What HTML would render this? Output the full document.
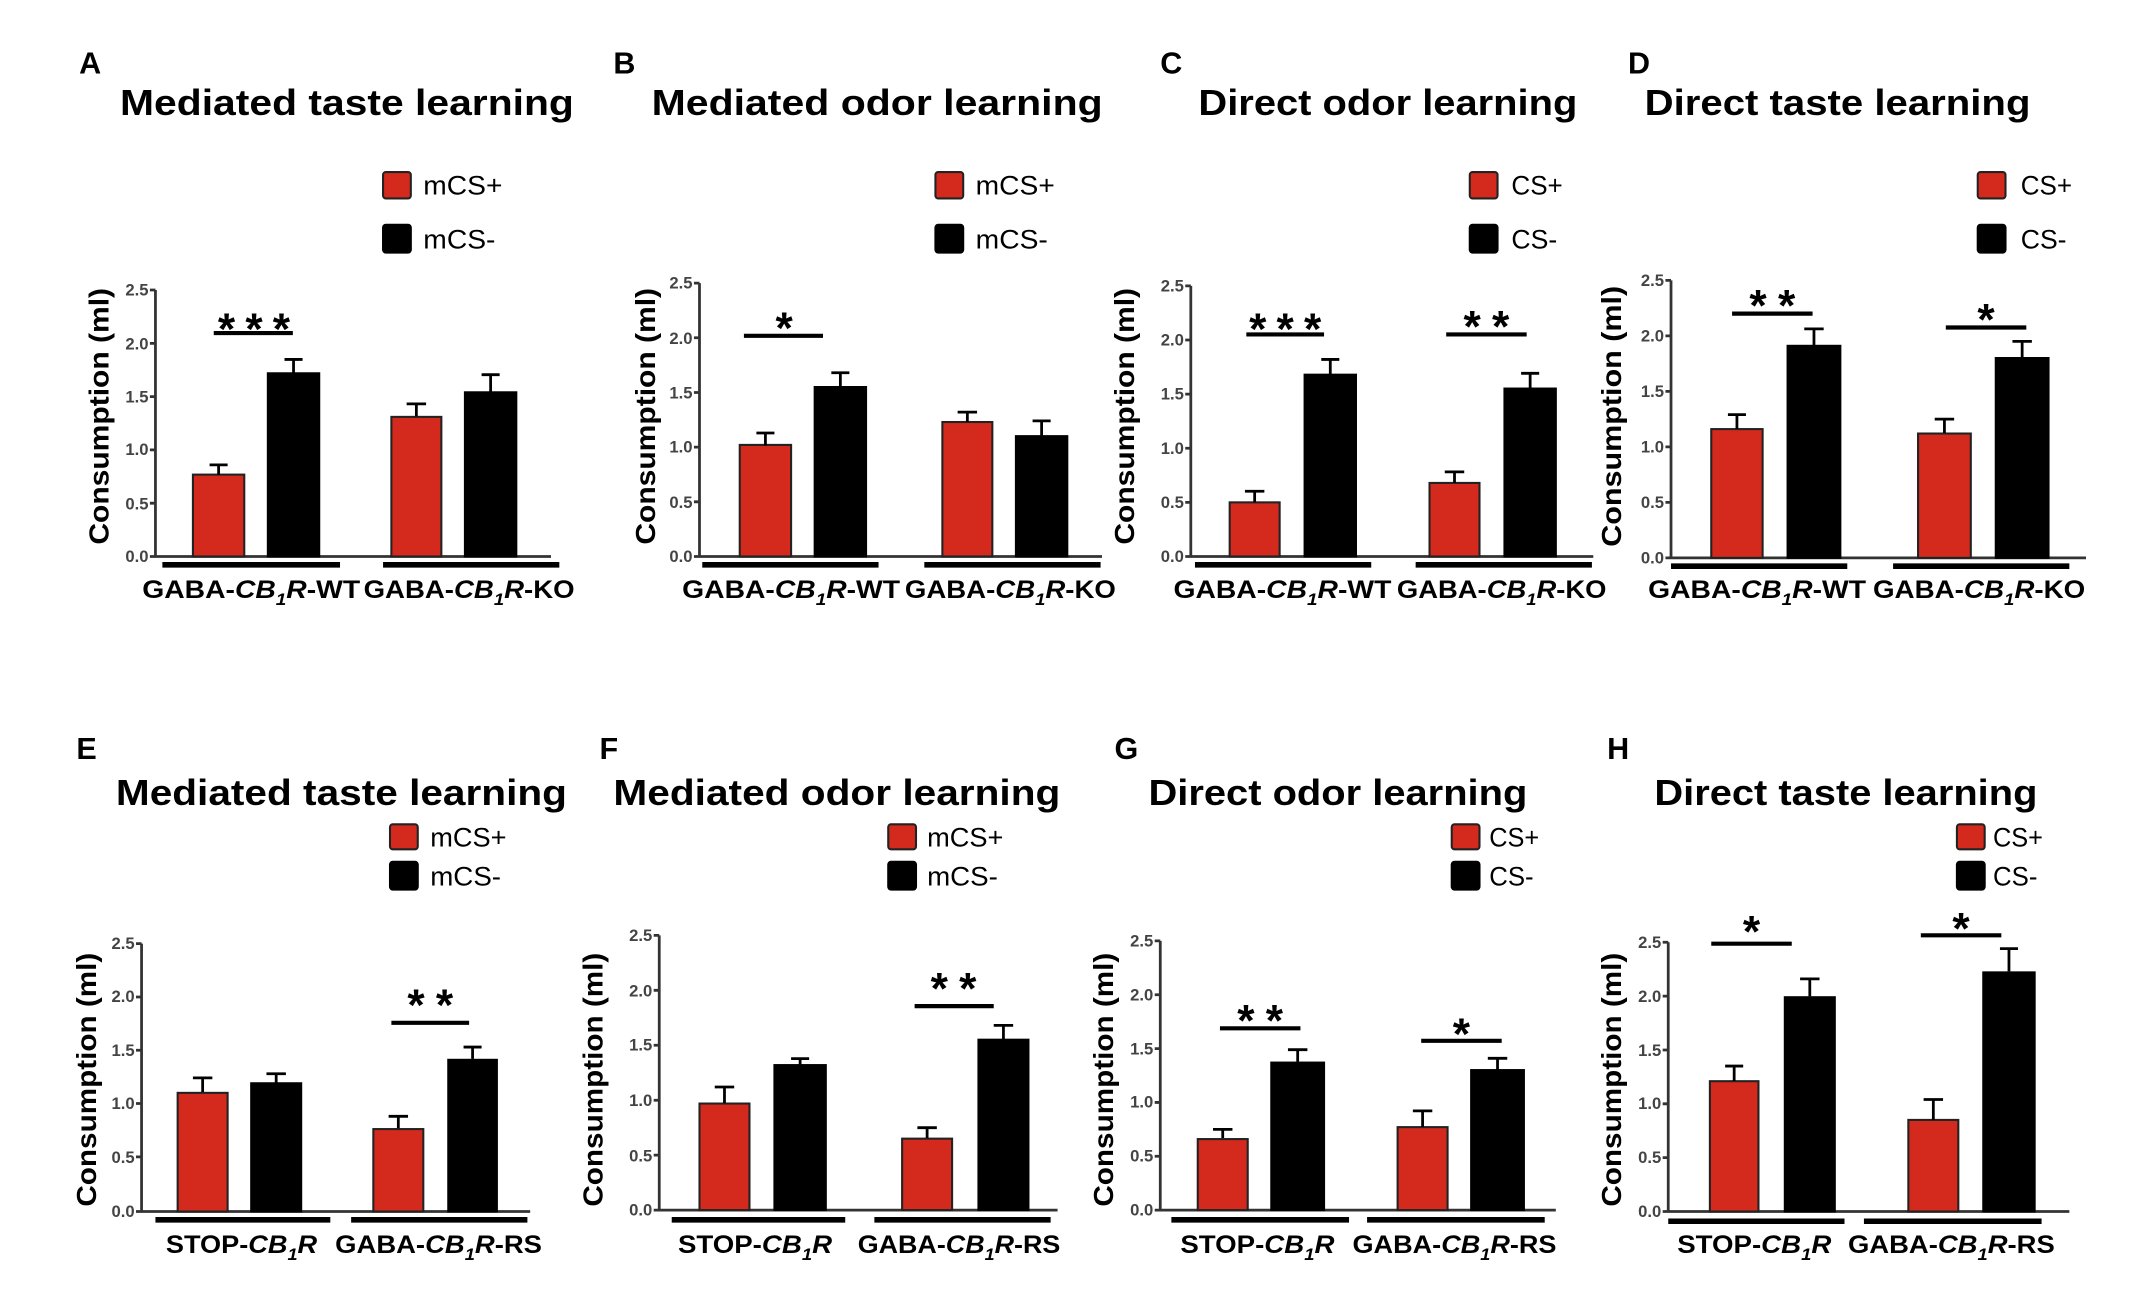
<!DOCTYPE html>
<html><head><meta charset="utf-8"><style>
html,body{margin:0;padding:0;background:#fff}
svg{display:block}
text{font-family:"Liberation Sans",sans-serif}
.t{font-weight:bold;font-size:26px}
.L{font-weight:bold;font-size:22px}
.lg{font-size:19px}
.tk{font-size:12px;font-weight:bold;fill:#444}
.yl{font-weight:bold;font-size:20px}
.gl{font-weight:bold;font-size:18px}
.st{font-weight:bold;font-size:32px}
.r{fill:#d42a1e;stroke:#222;stroke-width:1.5}
.b{fill:#000;stroke:#000;stroke-width:1.5}
.ax{stroke:#333;stroke-width:2;fill:none}
.e{stroke:#000;stroke-width:2;fill:none}
.g{stroke:#000;stroke-width:4}
.s{stroke:#000;stroke-width:3}
</style></head><body>
<svg width="2154" height="1292" viewBox="0 0 1552 931" preserveAspectRatio="none" xmlns="http://www.w3.org/2000/svg">
<!-- ===== A ===== -->
<text class="L" x="57" y="53">A</text>
<text class="t" x="250" y="83" text-anchor="middle" textLength="327" lengthAdjust="spacingAndGlyphs">Mediated taste learning</text>
<rect x="276" y="124" width="20" height="19" rx="2" class="r" stroke-width="2.5"/><text class="lg" x="305" y="140" textLength="57" lengthAdjust="spacingAndGlyphs">mCS+</text>
<rect x="276" y="162" width="20" height="20" rx="2" class="b"/><text class="lg" x="305" y="179" textLength="52" lengthAdjust="spacingAndGlyphs">mCS-</text>
<text class="yl" transform="translate(78,300) rotate(-90)" text-anchor="middle" textLength="185" lengthAdjust="spacingAndGlyphs">Consumption (ml)</text>
<g class="ax"><path d="M112,209 V401 H397 M108,401 H112 M108,362.6 H112 M108,324.2 H112 M108,285.8 H112 M108,247.4 H112 M108,209 H112"/></g>
<g class="tk" text-anchor="end"><text x="107" y="405">0.0</text><text x="107" y="367">0.5</text><text x="107" y="328">1.0</text><text x="107" y="290">1.5</text><text x="107" y="252">2.0</text><text x="107" y="213">2.5</text></g>
<rect class="r" x="139" y="342" width="37" height="59"/><path class="e" d="M157.5,342 V335 M151,335 H164"/>
<rect class="b" x="193" y="269" width="37" height="132"/><path class="e" d="M211.5,269 V259 M205,259 H218"/>
<rect class="r" x="282" y="300.4" width="36" height="100.6"/><path class="e" d="M300,300 V291 M293,291 H307"/>
<rect class="b" x="335" y="282.7" width="37" height="118.3"/><path class="e" d="M353.5,283 V270 M347,270 H360"/>
<line class="s" x1="154" y1="240" x2="211" y2="240"/><text class="st" x="183" y="248" text-anchor="middle" textLength="52" lengthAdjust="spacing">***</text>
<line class="g" x1="117" y1="407" x2="245" y2="407"/><line class="g" x1="276" y1="407" x2="403" y2="407"/>
<text class="gl" x="181" y="431" text-anchor="middle" textLength="157" lengthAdjust="spacingAndGlyphs">GABA-<tspan font-style="italic">CB</tspan><tspan font-style="italic" font-size="12" dy="5">1</tspan><tspan font-style="italic" dy="-5">R</tspan>-WT</text>
<text class="gl" x="338" y="431" text-anchor="middle" textLength="152" lengthAdjust="spacingAndGlyphs">GABA-<tspan font-style="italic">CB</tspan><tspan font-style="italic" font-size="12" dy="5">1</tspan><tspan font-style="italic" dy="-5">R</tspan>-KO</text>

<!-- ===== B ===== -->
<text class="L" x="442" y="53">B</text>
<text class="t" x="632" y="83" text-anchor="middle" textLength="325" lengthAdjust="spacingAndGlyphs">Mediated odor learning</text>
<rect x="674" y="124" width="20" height="19" rx="2" class="r" stroke-width="2.5"/><text class="lg" x="703" y="140" textLength="57" lengthAdjust="spacingAndGlyphs">mCS+</text>
<rect x="674" y="162" width="20" height="20" rx="2" class="b"/><text class="lg" x="703" y="179" textLength="52" lengthAdjust="spacingAndGlyphs">mCS-</text>
<text class="yl" transform="translate(472,300) rotate(-90)" text-anchor="middle" textLength="185" lengthAdjust="spacingAndGlyphs">Consumption (ml)</text>
<g class="ax"><path d="M504,204 V401 H794 M500,401 H504 M500,361.6 H504 M500,322.2 H504 M500,282.8 H504 M500,243.4 H504 M500,204 H504"/></g>
<g class="tk" text-anchor="end"><text x="499" y="405">0.0</text><text x="499" y="366">0.5</text><text x="499" y="326">1.0</text><text x="499" y="287">1.5</text><text x="499" y="248">2.0</text><text x="499" y="208">2.5</text></g>
<rect class="r" x="533" y="320.6" width="37" height="80.4"/><path class="e" d="M551.5,321 V312 M545,312 H558"/>
<rect class="b" x="587" y="278.9" width="37" height="122.1"/><path class="e" d="M605.5,279 V268.6 M599,268.6 H612"/>
<rect class="r" x="679" y="304.1" width="36" height="96.9"/><path class="e" d="M697,304 V297 M690,297 H704"/>
<rect class="b" x="732" y="314.3" width="37" height="86.7"/><path class="e" d="M750.5,314 V303.3 M744,303.3 H757"/>
<line class="s" x1="536" y1="242" x2="593" y2="242"/><text class="st" x="565" y="247" text-anchor="middle">*</text>
<line class="g" x1="506" y1="407" x2="633" y2="407"/><line class="g" x1="666" y1="407" x2="793" y2="407"/>
<text class="gl" x="570" y="431" text-anchor="middle" textLength="157" lengthAdjust="spacingAndGlyphs">GABA-<tspan font-style="italic">CB</tspan><tspan font-style="italic" font-size="12" dy="5">1</tspan><tspan font-style="italic" dy="-5">R</tspan>-WT</text>
<text class="gl" x="728" y="431" text-anchor="middle" textLength="152" lengthAdjust="spacingAndGlyphs">GABA-<tspan font-style="italic">CB</tspan><tspan font-style="italic" font-size="12" dy="5">1</tspan><tspan font-style="italic" dy="-5">R</tspan>-KO</text>

<!-- ===== C ===== -->
<text class="L" x="836" y="53">C</text>
<text class="t" x="1000" y="83" text-anchor="middle" textLength="273" lengthAdjust="spacingAndGlyphs">Direct odor learning</text>
<rect x="1059" y="124" width="20" height="19" rx="2" class="r" stroke-width="2.5"/><text class="lg" x="1089" y="140" textLength="37" lengthAdjust="spacingAndGlyphs">CS+</text>
<rect x="1059" y="162" width="20" height="20" rx="2" class="b"/><text class="lg" x="1089" y="179" textLength="33" lengthAdjust="spacingAndGlyphs">CS-</text>
<text class="yl" transform="translate(817,300) rotate(-90)" text-anchor="middle" textLength="185" lengthAdjust="spacingAndGlyphs">Consumption (ml)</text>
<g class="ax"><path d="M858,206 V401 H1148 M854,401 H858 M854,362 H858 M854,323 H858 M854,284 H858 M854,245 H858 M854,206 H858"/></g>
<g class="tk" text-anchor="end"><text x="853" y="405">0.0</text><text x="853" y="366">0.5</text><text x="853" y="327">1.0</text><text x="853" y="288">1.5</text><text x="853" y="249">2.0</text><text x="853" y="210">2.5</text></g>
<rect class="r" x="886" y="362" width="36" height="39"/><path class="e" d="M904,362 V354 M897,354 H911"/>
<rect class="b" x="940" y="270" width="37" height="131"/><path class="e" d="M958.5,270 V259 M952,259 H965"/>
<rect class="r" x="1030" y="348" width="36" height="53"/><path class="e" d="M1048,348 V340 M1041,340 H1055"/>
<rect class="b" x="1084" y="280" width="37" height="121"/><path class="e" d="M1102.5,280 V269 M1096,269 H1109"/>
<line class="s" x1="898" y1="241" x2="954" y2="241"/><text class="st" x="926" y="248" text-anchor="middle" textLength="52" lengthAdjust="spacing">***</text>
<line class="s" x1="1042" y1="241" x2="1100" y2="241"/><text class="st" x="1071" y="246" text-anchor="middle" textLength="33" lengthAdjust="spacing">**</text>
<line class="g" x1="861" y1="407" x2="988" y2="407"/><line class="g" x1="1020" y1="407" x2="1147" y2="407"/>
<text class="gl" x="924" y="431" text-anchor="middle" textLength="157" lengthAdjust="spacingAndGlyphs">GABA-<tspan font-style="italic">CB</tspan><tspan font-style="italic" font-size="12" dy="5">1</tspan><tspan font-style="italic" dy="-5">R</tspan>-WT</text>
<text class="gl" x="1082" y="431" text-anchor="middle" textLength="151" lengthAdjust="spacingAndGlyphs">GABA-<tspan font-style="italic">CB</tspan><tspan font-style="italic" font-size="12" dy="5">1</tspan><tspan font-style="italic" dy="-5">R</tspan>-KO</text>

<!-- ===== D ===== -->
<text class="L" x="1173" y="53">D</text>
<text class="t" x="1324" y="83" text-anchor="middle" textLength="278" lengthAdjust="spacingAndGlyphs">Direct taste learning</text>
<rect x="1425" y="124" width="20" height="19" rx="2" class="r" stroke-width="2.5"/><text class="lg" x="1456" y="140" textLength="37" lengthAdjust="spacingAndGlyphs">CS+</text>
<rect x="1425" y="162" width="20" height="20" rx="2" class="b"/><text class="lg" x="1456" y="179" textLength="33" lengthAdjust="spacingAndGlyphs">CS-</text>
<text class="yl" transform="translate(1168,300) rotate(-90)" text-anchor="middle" textLength="188" lengthAdjust="spacingAndGlyphs">Consumption (ml)</text>
<g class="ax"><path d="M1204,202 V402 H1503 M1200,402 H1204 M1200,362 H1204 M1200,322 H1204 M1200,282 H1204 M1200,242 H1204 M1200,202 H1204"/></g>
<g class="tk" text-anchor="end"><text x="1199" y="406">0.0</text><text x="1199" y="366">0.5</text><text x="1199" y="326">1.0</text><text x="1199" y="286">1.5</text><text x="1199" y="246">2.0</text><text x="1199" y="206">2.5</text></g>
<rect class="r" x="1233" y="309.2" width="37" height="92.8"/><path class="e" d="M1251.5,309 V298.8 M1245,298.8 H1258"/>
<rect class="b" x="1288" y="249.2" width="38" height="152.8"/><path class="e" d="M1307,249 V237 M1300,237 H1314"/>
<rect class="r" x="1382" y="312.4" width="38" height="89.6"/><path class="e" d="M1401,312 V302 M1394,302 H1408"/>
<rect class="b" x="1438" y="258" width="38" height="144"/><path class="e" d="M1457,258 V246 M1450,246 H1464"/>
<line class="s" x1="1248" y1="226" x2="1306" y2="226"/><text class="st" x="1277" y="231" text-anchor="middle" textLength="33" lengthAdjust="spacing">**</text>
<line class="s" x1="1402" y1="236" x2="1460" y2="236"/><text class="st" x="1431" y="241" text-anchor="middle">*</text>
<line class="g" x1="1204" y1="408" x2="1331" y2="408"/><line class="g" x1="1364" y1="408" x2="1491" y2="408"/>
<text class="gl" x="1266" y="431" text-anchor="middle" textLength="157" lengthAdjust="spacingAndGlyphs">GABA-<tspan font-style="italic">CB</tspan><tspan font-style="italic" font-size="12" dy="5">1</tspan><tspan font-style="italic" dy="-5">R</tspan>-WT</text>
<text class="gl" x="1426" y="431" text-anchor="middle" textLength="153" lengthAdjust="spacingAndGlyphs">GABA-<tspan font-style="italic">CB</tspan><tspan font-style="italic" font-size="12" dy="5">1</tspan><tspan font-style="italic" dy="-5">R</tspan>-KO</text>

<!-- ===== E ===== -->
<text class="L" x="55" y="547">E</text>
<text class="t" x="246" y="580" text-anchor="middle" textLength="325" lengthAdjust="spacingAndGlyphs">Mediated taste learning</text>
<rect x="281" y="594" width="20" height="18" rx="2" class="r" stroke-width="2.5"/><text class="lg" x="310" y="610" textLength="55" lengthAdjust="spacingAndGlyphs">mCS+</text>
<rect x="281" y="621" width="20" height="20" rx="2" class="b"/><text class="lg" x="310" y="638" textLength="51" lengthAdjust="spacingAndGlyphs">mCS-</text>
<text class="yl" transform="translate(69,778) rotate(-90)" text-anchor="middle" textLength="183" lengthAdjust="spacingAndGlyphs">Consumption (ml)</text>
<g class="ax"><path d="M102,680 V873 H382 M98,873 H102 M98,833.6 H102 M98,795.2 H102 M98,756.8 H102 M98,718.4 H102 M98,680 H102"/></g>
<g class="tk" text-anchor="end"><text x="97" y="877">0.0</text><text x="97" y="838">0.5</text><text x="97" y="799">1.0</text><text x="97" y="761">1.5</text><text x="97" y="722">2.0</text><text x="97" y="684">2.5</text></g>
<rect class="r" x="128" y="787.5" width="36" height="85.5"/><path class="e" d="M146,787 V776.7 M139,776.7 H153"/>
<rect class="b" x="181" y="780.6" width="36" height="92.4"/><path class="e" d="M199,780 V773.7 M192,773.7 H206"/>
<rect class="r" x="269" y="813.6" width="36" height="59.4"/><path class="e" d="M287,813 V804.4 M280,804.4 H294"/>
<rect class="b" x="323" y="763.7" width="35" height="109.3"/><path class="e" d="M340.5,763 V754.5 M334,754.5 H347"/>
<line class="s" x1="282" y1="737" x2="338" y2="737"/><text class="st" x="310" y="735" text-anchor="middle" textLength="33" lengthAdjust="spacing">**</text>
<line class="g" x1="112" y1="879" x2="238" y2="879"/><line class="g" x1="253" y1="879" x2="380" y2="879"/>
<text class="gl" x="174" y="903" text-anchor="middle" textLength="109" lengthAdjust="spacingAndGlyphs">STOP-<tspan font-style="italic">CB</tspan><tspan font-style="italic" font-size="12" dy="5">1</tspan><tspan font-style="italic" dy="-5">R</tspan></text>
<text class="gl" x="316" y="903" text-anchor="middle" textLength="149" lengthAdjust="spacingAndGlyphs">GABA-<tspan font-style="italic">CB</tspan><tspan font-style="italic" font-size="12" dy="5">1</tspan><tspan font-style="italic" dy="-5">R</tspan>-RS</text>

<!-- ===== F ===== -->
<text class="L" x="432" y="547">F</text>
<text class="t" x="603" y="580" text-anchor="middle" textLength="322" lengthAdjust="spacingAndGlyphs">Mediated odor learning</text>
<rect x="640" y="594" width="20" height="18" rx="2" class="r" stroke-width="2.5"/><text class="lg" x="668" y="610" textLength="55" lengthAdjust="spacingAndGlyphs">mCS+</text>
<rect x="640" y="621" width="20" height="20" rx="2" class="b"/><text class="lg" x="668" y="638" textLength="51" lengthAdjust="spacingAndGlyphs">mCS-</text>
<text class="yl" transform="translate(434,778) rotate(-90)" text-anchor="middle" textLength="183" lengthAdjust="spacingAndGlyphs">Consumption (ml)</text>
<g class="ax"><path d="M475,674 V872 H762 M471,872 H475 M471,832.4 H475 M471,792.8 H475 M471,753.2 H475 M471,713.6 H475 M471,674 H475"/></g>
<g class="tk" text-anchor="end"><text x="470" y="876">0.0</text><text x="470" y="837">0.5</text><text x="470" y="797">1.0</text><text x="470" y="757">1.5</text><text x="470" y="718">2.0</text><text x="470" y="678">2.5</text></g>
<rect class="r" x="504" y="795.2" width="36" height="76.8"/><path class="e" d="M522,795 V783.3 M515,783.3 H529"/>
<rect class="b" x="558" y="767.5" width="37" height="104.5"/><path class="e" d="M576.5,767 V762.8 M570,762.8 H583"/>
<rect class="r" x="650" y="820.5" width="36" height="51.5"/><path class="e" d="M668,820 V812.6 M661,812.6 H675"/>
<rect class="b" x="705" y="749.2" width="36" height="122.8"/><path class="e" d="M723,749 V738.9 M716,738.9 H730"/>
<line class="s" x1="659" y1="725" x2="716" y2="725"/><text class="st" x="687" y="723" text-anchor="middle" textLength="33" lengthAdjust="spacing">**</text>
<line class="g" x1="484" y1="879" x2="609" y2="879"/><line class="g" x1="630" y1="879" x2="757" y2="879"/>
<text class="gl" x="544" y="903" text-anchor="middle" textLength="111" lengthAdjust="spacingAndGlyphs">STOP-<tspan font-style="italic">CB</tspan><tspan font-style="italic" font-size="12" dy="5">1</tspan><tspan font-style="italic" dy="-5">R</tspan></text>
<text class="gl" x="691" y="903" text-anchor="middle" textLength="146" lengthAdjust="spacingAndGlyphs">GABA-<tspan font-style="italic">CB</tspan><tspan font-style="italic" font-size="12" dy="5">1</tspan><tspan font-style="italic" dy="-5">R</tspan>-RS</text>

<!-- ===== G ===== -->
<text class="L" x="803" y="547">G</text>
<text class="t" x="964" y="580" text-anchor="middle" textLength="273" lengthAdjust="spacingAndGlyphs">Direct odor learning</text>
<rect x="1046" y="594" width="20" height="18" rx="2" class="r" stroke-width="2.5"/><text class="lg" x="1073" y="610" textLength="36" lengthAdjust="spacingAndGlyphs">CS+</text>
<rect x="1046" y="621" width="20" height="20" rx="2" class="b"/><text class="lg" x="1073" y="638" textLength="32" lengthAdjust="spacingAndGlyphs">CS-</text>
<text class="yl" transform="translate(802,778) rotate(-90)" text-anchor="middle" textLength="183" lengthAdjust="spacingAndGlyphs">Consumption (ml)</text>
<g class="ax"><path d="M836,678 V872 H1121 M832,872 H836 M832,833.2 H836 M832,794.4 H836 M832,755.6 H836 M832,716.8 H836 M832,678 H836"/></g>
<g class="tk" text-anchor="end"><text x="831" y="876">0.0</text><text x="831" y="837">0.5</text><text x="831" y="798">1.0</text><text x="831" y="760">1.5</text><text x="831" y="721">2.0</text><text x="831" y="682">2.5</text></g>
<rect class="r" x="863" y="820.8" width="36" height="51.2"/><path class="e" d="M881,820 V813.8 M874,813.8 H888"/>
<rect class="b" x="916" y="765.7" width="38" height="106.3"/><path class="e" d="M935,765 V756.4 M928,756.4 H942"/>
<rect class="r" x="1007" y="812.2" width="36" height="59.8"/><path class="e" d="M1025,812 V800.5 M1018,800.5 H1032"/>
<rect class="b" x="1060" y="771.1" width="38" height="100.9"/><path class="e" d="M1079,771 V762.6 M1072,762.6 H1086"/>
<line class="s" x1="879" y1="741" x2="937" y2="741"/><text class="st" x="908" y="746" text-anchor="middle" textLength="33" lengthAdjust="spacing">**</text>
<line class="s" x1="1024" y1="750" x2="1082" y2="750"/><text class="st" x="1053" y="756" text-anchor="middle">*</text>
<line class="g" x1="844" y1="879" x2="972" y2="879"/><line class="g" x1="985" y1="879" x2="1113" y2="879"/>
<text class="gl" x="906" y="903" text-anchor="middle" textLength="111" lengthAdjust="spacingAndGlyphs">STOP-<tspan font-style="italic">CB</tspan><tspan font-style="italic" font-size="12" dy="5">1</tspan><tspan font-style="italic" dy="-5">R</tspan></text>
<text class="gl" x="1048" y="903" text-anchor="middle" textLength="147" lengthAdjust="spacingAndGlyphs">GABA-<tspan font-style="italic">CB</tspan><tspan font-style="italic" font-size="12" dy="5">1</tspan><tspan font-style="italic" dy="-5">R</tspan>-RS</text>

<!-- ===== H ===== -->
<text class="L" x="1158" y="547">H</text>
<text class="t" x="1330" y="580" text-anchor="middle" textLength="276" lengthAdjust="spacingAndGlyphs">Direct taste learning</text>
<rect x="1410" y="594" width="20" height="18" rx="2" class="r" stroke-width="2.5"/><text class="lg" x="1436" y="610" textLength="36" lengthAdjust="spacingAndGlyphs">CS+</text>
<rect x="1410" y="621" width="20" height="20" rx="2" class="b"/><text class="lg" x="1436" y="638" textLength="32" lengthAdjust="spacingAndGlyphs">CS-</text>
<text class="yl" transform="translate(1168,778) rotate(-90)" text-anchor="middle" textLength="183" lengthAdjust="spacingAndGlyphs">Consumption (ml)</text>
<g class="ax"><path d="M1202,679 V873 H1491 M1198,873 H1202 M1198,834.2 H1202 M1198,795.4 H1202 M1198,756.6 H1202 M1198,717.8 H1202 M1198,679 H1202"/></g>
<g class="tk" text-anchor="end"><text x="1197" y="877">0.0</text><text x="1197" y="838">0.5</text><text x="1197" y="799">1.0</text><text x="1197" y="761">1.5</text><text x="1197" y="722">2.0</text><text x="1197" y="683">2.5</text></g>
<rect class="r" x="1232" y="779.1" width="35" height="93.9"/><path class="e" d="M1249.5,779 V768.2 M1243,768.2 H1256"/>
<rect class="b" x="1286" y="718.6" width="36" height="154.4"/><path class="e" d="M1304,718 V705.4 M1297,705.4 H1311"/>
<rect class="r" x="1375" y="807" width="36" height="66"/><path class="e" d="M1393,807 V792.3 M1386,792.3 H1400"/>
<rect class="b" x="1429" y="700.7" width="37" height="172.3"/><path class="e" d="M1447.5,700 V683.6 M1441,683.6 H1454"/>
<line class="s" x1="1233" y1="680" x2="1291" y2="680"/><text class="st" x="1262" y="682" text-anchor="middle">*</text>
<line class="s" x1="1384" y1="674" x2="1442" y2="674"/><text class="st" x="1413" y="680" text-anchor="middle">*</text>
<line class="g" x1="1202" y1="880" x2="1329" y2="880"/><line class="g" x1="1343" y1="880" x2="1471" y2="880"/>
<text class="gl" x="1264" y="903" text-anchor="middle" textLength="111" lengthAdjust="spacingAndGlyphs">STOP-<tspan font-style="italic">CB</tspan><tspan font-style="italic" font-size="12" dy="5">1</tspan><tspan font-style="italic" dy="-5">R</tspan></text>
<text class="gl" x="1406" y="903" text-anchor="middle" textLength="149" lengthAdjust="spacingAndGlyphs">GABA-<tspan font-style="italic">CB</tspan><tspan font-style="italic" font-size="12" dy="5">1</tspan><tspan font-style="italic" dy="-5">R</tspan>-RS</text>
</svg>
</body></html>
